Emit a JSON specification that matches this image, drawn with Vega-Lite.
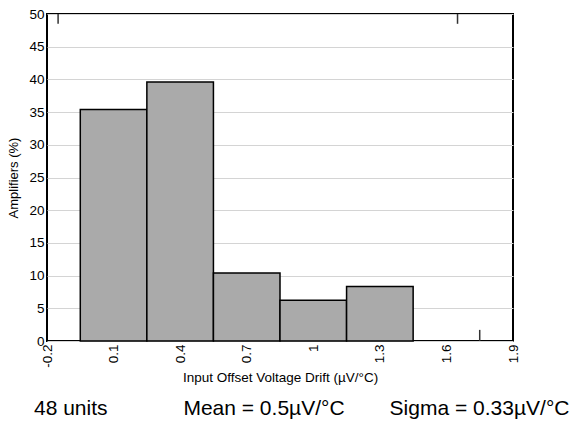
{
  "$schema": "https://vega.github.io/schema/vega-lite/v6.json",
  "width": 466,
  "height": 327,
  "autosize": {"type": "none"},
  "padding": {"left": 47, "top": 14, "right": 60, "bottom": 81},
  "background": "white",
  "config": {
    "font": "Liberation Sans",
    "view": {"stroke": "black", "strokeWidth": 2}
  },
  "title": {
    "text": "48 units\u00a0\u00a0\u00a0\u00a0\u00a0\u00a0\u00a0\u00a0\u00a0\u00a0\u00a0\u00a0\u00a0Mean = 0.5µV/°C\u00a0\u00a0\u00a0\u00a0\u00a0\u00a0\u00a0\u2009Sigma = 0.33µV/°C",
    "orient": "bottom",
    "anchor": "start",
    "frame": "group",
    "dx": -13,
    "offset": 14,
    "fontSize": 21,
    "fontWeight": "normal",
    "color": "black"
  },
  "datasets": {
    "bins": [
      {"bin_start": -0.05, "bin_end": 0.25, "amplifiers": 35.4},
      {"bin_start": 0.25, "bin_end": 0.55, "amplifiers": 39.6},
      {"bin_start": 0.55, "bin_end": 0.85, "amplifiers": 10.4},
      {"bin_start": 0.85, "bin_end": 1.15, "amplifiers": 6.25},
      {"bin_start": 1.15, "bin_end": 1.45, "amplifiers": 8.33}
    ],
    "marks": [
      {"pos": -0.15, "low": 48.5, "high": 50},
      {"pos": 1.65, "low": 48.5, "high": 50},
      {"pos": 1.75, "low": 0, "high": 1.7}
    ]
  },
  "resolve": {"axis": {"x": "independent", "y": "independent"}},
  "layer": [
    {
      "data": {"name": "bins"},
      "mark": {"type": "rect", "fill": "#aaaaaa", "stroke": "black", "strokeWidth": 1.5},
      "encoding": {
        "x": {
          "field": "bin_start",
          "type": "quantitative",
          "scale": {"domain": [-0.2, 1.9], "nice": false, "zero": false},
          "axis": {
            "values": [-0.2, 0.1, 0.4, 0.7, 1, 1.3, 1.6, 1.9],
            "labelExpr": "'' + datum.value",
            "labelAngle": -90,
            "labelAlign": "right",
            "labelBaseline": "middle",
            "labelFontSize": 13.5,
            "labelColor": "black",
            "labelPadding": 3,
            "ticks": false,
            "domain": false,
            "grid": false,
            "title": "Input Offset Voltage Drift (µV/°C)",
            "titleFontSize": 13.5,
            "titleFontWeight": "normal",
            "titleColor": "black",
            "titlePadding": 3
          }
        },
        "x2": {"field": "bin_end"},
        "y": {
          "field": "amplifiers",
          "type": "quantitative",
          "scale": {"domain": [0, 50], "nice": false},
          "axis": {
            "values": [0, 5, 10, 15, 20, 25, 30, 35, 40, 45, 50],
            "labelOverlap": false,
            "labelFontSize": 13.5,
            "labelColor": "black",
            "labelPadding": 3,
            "ticks": false,
            "domain": false,
            "grid": true,
            "gridColor": "#d4d4d4",
            "gridWidth": 1.2,
            "title": "Amplifiers (%)",
            "titleFontSize": 13,
            "titleFontWeight": "normal",
            "titleColor": "black",
            "titlePadding": 8
          }
        }
      }
    },
    {
      "data": {"name": "marks"},
      "mark": {"type": "rule", "color": "#333333", "strokeWidth": 1.5},
      "encoding": {
        "x": {"field": "pos", "type": "quantitative", "axis": null},
        "y": {"field": "low", "type": "quantitative", "axis": null},
        "y2": {"field": "high"}
      }
    }
  ]
}
